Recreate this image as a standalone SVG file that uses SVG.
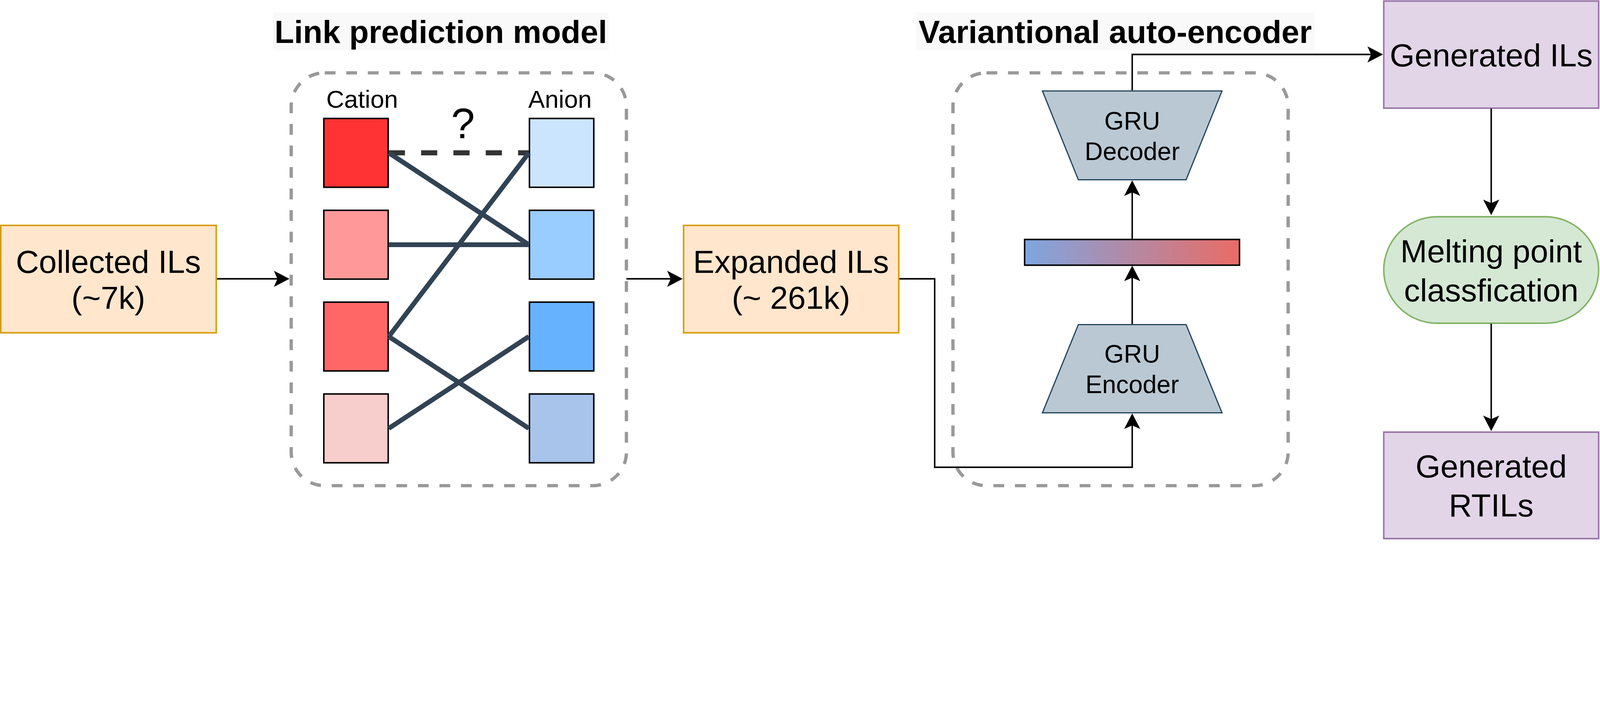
<svg xmlns="http://www.w3.org/2000/svg" width="5346" height="1806" viewBox="0 0 5346 1806" style="max-width:100vw;height:auto">
<defs>
<style>
text{font-family:"Liberation Sans",Arial,Helvetica,sans-serif;fill:#000}
.lbl{font-size:107px;text-anchor:middle}
.title{font-size:107px;font-weight:bold;text-anchor:middle}
.small{font-size:84px;text-anchor:middle}
.tbg{fill:#f9f9f9;stroke:none}
.cont{fill:none;stroke:#999999;stroke-width:11;stroke-dasharray:36 36}
.orange{fill:#ffe6cc;stroke:#d79b00;stroke-width:5}
.purple{fill:#e1d5e7;stroke:#9673a6;stroke-width:5}
.green{fill:#d5e8d4;stroke:#82b366;stroke-width:5}
.trap{fill:#bac8d3;stroke:#23445d;stroke-width:4}
.sq{stroke:#000;stroke-width:5}
.link{stroke:#314354;stroke-width:16;fill:none}
.dlink{stroke:#333333;stroke-width:17;stroke-dasharray:54 54;fill:none}
.edge{stroke:#000;stroke-width:5;fill:none;marker-end:url(#arr)}
</style>
<marker id="arr" markerUnits="userSpaceOnUse" markerWidth="60" markerHeight="60" viewBox="-14 -30 60 60" refX="0" refY="0" orient="auto">
<path d="M40,0 L-12,-27 L0,0 L-12,27 Z" fill="#000"/>
</marker>
<linearGradient id="grad" x1="0" y1="0" x2="1" y2="0">
<stop offset="0" stop-color="#7EA6E0"/>
<stop offset="1" stop-color="#EA6B66"/>
</linearGradient>
</defs>
<rect width="5346" height="1806" fill="#ffffff"/>

<g id="title-link">
<rect class="tbg" x="912" y="42" width="1122" height="126"/>
<text class="title" x="1473" y="143">Link prediction model</text>
</g>
<g id="title-vae">
<rect class="tbg" x="3060" y="42" width="1332" height="126"/>
<text class="title" x="3726" y="143">Variantional auto-encoder</text>
</g>

<g id="container-link">
<rect class="cont" x="973" y="243.5" width="1120" height="1380" rx="112" ry="112"/>
</g>
<g id="container-vae">
<rect class="cont" x="3184" y="243.5" width="1120" height="1380" rx="112" ry="112"/>
</g>

<g id="collected">
<rect class="orange" x="2.5" y="753.5" width="720" height="359"/>
<text class="lbl" x="362" y="912">Collected ILs</text>
<text class="lbl" x="362" y="1032">(~7k)</text>
</g>

<g id="cation-label"><text x="1090" y="360" font-size="83">Cation</text></g>
<g id="anion-label"><text x="1765" y="360" font-size="83">Anion</text></g>
<g id="question"><text x="1547" y="462" font-size="142" text-anchor="middle">?</text></g>

<g id="cation1"><rect class="sq" x="1082" y="396" width="215" height="230" fill="#FF3333" stroke="#36393d"/></g>
<g id="cation2"><rect class="sq" x="1082" y="703" width="215" height="230" fill="#FF9999"/></g>
<g id="cation3"><rect class="sq" x="1082" y="1010" width="215" height="230" fill="#FF6666"/></g>
<g id="cation4"><rect class="sq" x="1082" y="1317" width="215" height="230" fill="#F8CECC"/></g>
<g id="anion1"><rect class="sq" x="1769" y="396" width="215" height="230" fill="#CCE5FF"/></g>
<g id="anion2"><rect class="sq" x="1769" y="703" width="215" height="230" fill="#99CCFF"/></g>
<g id="anion3"><rect class="sq" x="1769" y="1010" width="215" height="230" fill="#66B2FF"/></g>
<g id="anion4"><rect class="sq" x="1769" y="1317" width="215" height="230" fill="#A9C4EB"/></g>

<g id="expanded">
<rect class="orange" x="2284" y="753.5" width="719" height="359"/>
<text class="lbl" x="2643" y="912">Expanded ILs</text>
<text class="lbl" x="2643" y="1032">(~ 261k)</text>
</g>

<g id="decoder">
<polygon class="trap" points="3483,304 4083,304 3963,601 3603,601"/>
<text class="small" x="3783" y="433">GRU</text>
<text class="small" x="3783" y="535">Decoder</text>
</g>
<g id="latent">
<rect x="3423.5" y="800.5" width="718" height="86" fill="url(#grad)" stroke="#000" stroke-width="5"/>
</g>
<g id="encoder">
<polygon class="trap" points="3603,1085 3963,1085 4083,1380 3483,1380"/>
<text class="small" x="3783" y="1212">GRU</text>
<text class="small" x="3783" y="1314">Encoder</text>
</g>

<g id="generated-ils">
<rect class="purple" x="4623.5" y="3.5" width="718" height="358"/>
<text class="lbl" x="4982.5" y="222">Generated ILs</text>
</g>
<g id="melting">
<rect class="green" x="4623.5" y="724.5" width="718" height="356" rx="178" ry="178"/>
<text class="lbl" x="4982.5" y="877">Melting point</text>
<text class="lbl" x="4982.5" y="1008">classfication</text>
</g>
<g id="generated-rtils">
<rect class="purple" x="4623.5" y="1444.5" width="718" height="356"/>
<text class="lbl" x="4982.5" y="1596">Generated</text>
<text class="lbl" x="4982.5" y="1727">RTILs</text>
</g>

<g id="connectors">
<path class="dlink" d="M1299,511 H1767"/>
<path class="link" d="M1299,511 L1767,818"/>
<path class="link" d="M1299,818 L1767,818"/>
<path class="link" d="M1299,1125 L1767,511"/>
<path class="link" d="M1299,1125 L1767,1432"/>
<path class="link" d="M1299,1432 L1767,1125"/>
<path class="edge" d="M725,932 H927"/>
<path class="edge" d="M2093,932 H2241"/>
<path class="edge" d="M3005,932 H3123 V1562 H3783 V1422"/>
<path class="edge" d="M3783,1083 V928"/>
<path class="edge" d="M3783,798 V643"/>
<path class="edge" d="M3783,302 V182 H4581"/>
<path class="edge" d="M4982.5,363 V679"/>
<path class="edge" d="M4982.5,1082 V1401"/>
</g>
</svg>
